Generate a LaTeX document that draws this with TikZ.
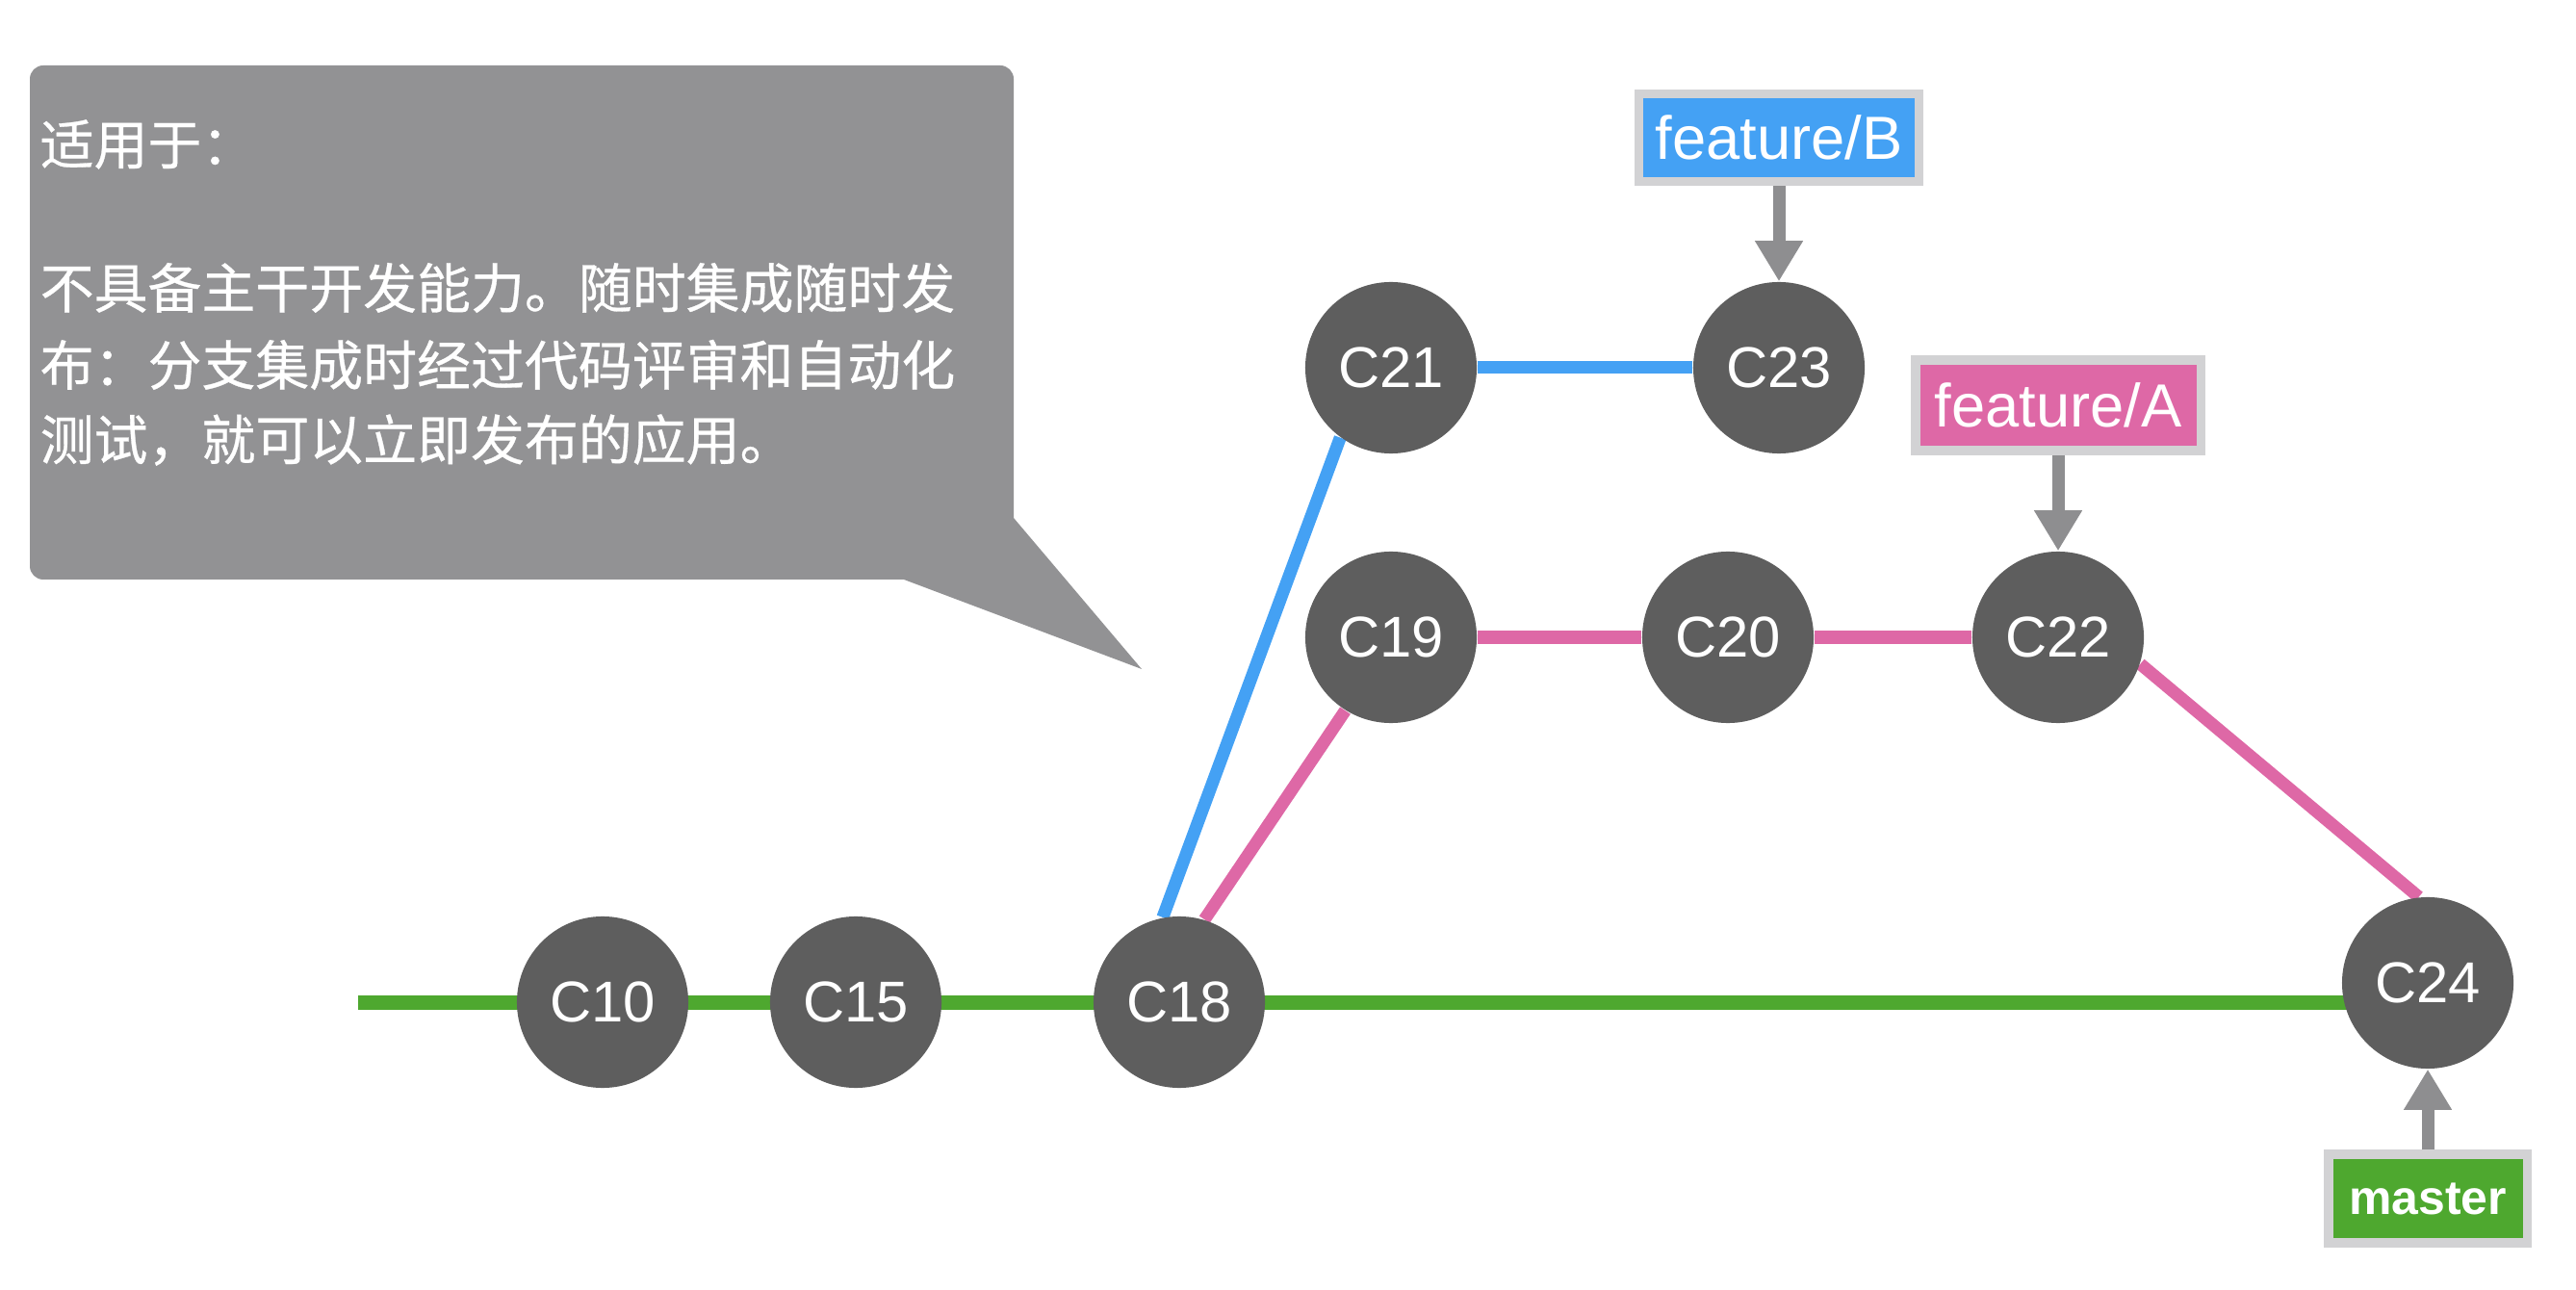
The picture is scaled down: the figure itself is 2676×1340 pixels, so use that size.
\documentclass[tikz,border=0pt]{standalone}
\usepackage{fontspec}
\setmainfont{Liberation Sans}
\newfontfamily\cjk{Noto Sans CJK SC}[FakeBold=0.5]
\usetikzlibrary{arrows.meta,backgrounds}
\definecolor{commit}{HTML}{5E5E5E}
\definecolor{bubble}{HTML}{929294}
\definecolor{mgreen}{HTML}{4EA82F}
\definecolor{fblue}{HTML}{44A1F4}
\definecolor{fpink}{HTML}{DE68A6}
\definecolor{lborder}{HTML}{D2D2D4}
\definecolor{ptr}{HTML}{8E8E90}
\begin{document}
\begin{tikzpicture}[x=0.01cm,y=-0.01cm,
  commitnode/.style={circle,fill=commit,minimum size=1.78cm,inner sep=0pt,text=white,font=\fontsize{17pt}{20pt}\selectfont},
  branchlabel/.style={draw=lborder,line width=2.6pt,text=white,inner sep=0pt,font=\fontsize{18pt}{21pt}\selectfont},
  ptrarrow/.style={draw=ptr,line width=0.13cm,-{Triangle[width=0.47cm,length=0.42cm]}},
  txtline/.style={text=white,inner sep=0pt,anchor=west,font=\cjk\fontsize{15.9pt}{19pt}\selectfont},
  mline/.style={draw=mgreen,line width=0.15cm},
  bline/.style={draw=fblue,line width=0.13cm},
  pline/.style={draw=fpink,line width=0.13cm}
]
\useasboundingbox (0,0) rectangle (2676,1340);

% callout bubble
\fill[bubble, rounded corners=0.14cm] (31,68) rectangle (1053,602);
\fill[bubble] (939,602) -- (1186,695) -- (1053,538) -- (1000,538) -- (939,590) -- cycle;
\node[txtline] (t1) at (41,150) {适用于：};
\node[txtline] (t2) at (41,299) {不具备主干开发能力。随时集成随时发};
\node[txtline] (t3) at (41,379) {布：分支集成时经过代码评审和自动化};
\node[txtline] (t4) at (41,457) {测试，就可以立即发布的应用。};

% commits
\node[commitnode] (C10) at (626,1041) {C10};
\node[commitnode] (C15) at (889,1041) {C15};
\node[commitnode] (C18) at (1225,1041) {C18};
\node[commitnode] (C19) at (1445,662) {C19};
\node[commitnode] (C20) at (1795,662) {C20};
\node[commitnode] (C21) at (1445,382) {C21};
\node[commitnode] (C22) at (2138,662) {C22};
\node[commitnode] (C23) at (1848,382) {C23};
\node[commitnode] (C24) at (2522,1021) {C24};
\coordinate (gstart) at (372,1041);

\begin{scope}[on background layer]
  \draw[mline] (gstart) -- (C24 |- C18);
  \draw[bline] (C18.101) -- (C21.234);
  \draw[bline] (C21) -- (C23);
  \draw[pline] (C18.73) -- (C19.238);
  \draw[pline] (C19) -- (C20);
  \draw[pline] (C20) -- (C22);
  \draw[pline] (C22.-18) -- (C24.96);
\end{scope}

% branch labels
\node[branchlabel,fill=fblue,minimum width=2.91cm,minimum height=0.91cm] (fB) at (1848,143) {feature/B};
\node[branchlabel,fill=fpink,minimum width=2.96cm,minimum height=0.94cm] (fA) at (2138,421) {feature/A};
\node[branchlabel,fill=mgreen,minimum width=2.06cm,minimum height=0.92cm,font=\bfseries\fontsize{14.2pt}{17pt}\selectfont] (ms) at (2522,1245) {master};

\draw[ptrarrow] (fB.south) -- (C23.north);
\draw[ptrarrow] (fA.south) -- (C22.north);
\draw[ptrarrow] (ms.north) -- (C24.south);
\end{tikzpicture}
\end{document}
